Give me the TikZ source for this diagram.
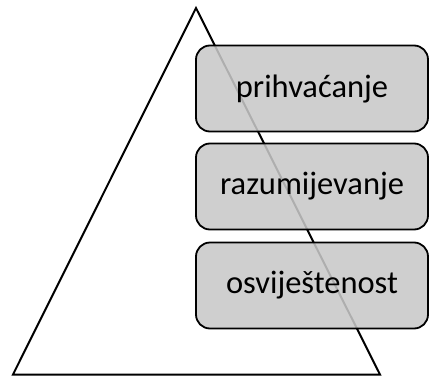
\documentclass[tikz,border=0pt]{standalone}
\usepackage{fontspec}
\setmainfont{Carlito}
\begin{document}
\begin{tikzpicture}[x=1pt,y=-1pt,
  tri/.style={draw=black,line width=2pt,line join=miter},
  levelbox/.style={draw=black,line width=1.8pt,rounded corners=14pt,
    fill={rgb,255:red,200;green,200;blue,200},fill opacity=0.87,text opacity=1,
    minimum width=232pt,minimum height=86pt,inner sep=0pt,font=\fontsize{32.5}{38}\selectfont}]
\useasboundingbox (0,0) rectangle (429,378);
\coordinate (apex) at (196,8);
\coordinate (bl) at (13,374.5);
\coordinate (br) at (380,374.5);
\draw[tri] (apex) -- (br) -- (bl) -- cycle;
\node[levelbox] (b1) at (312,88.5) {prihvaćanje};
\node[levelbox] (b2) at (312,186.5) {razumijevanje};
\node[levelbox] (b3) at (312,285.5) {osviještenost};
\end{tikzpicture}
\end{document}
